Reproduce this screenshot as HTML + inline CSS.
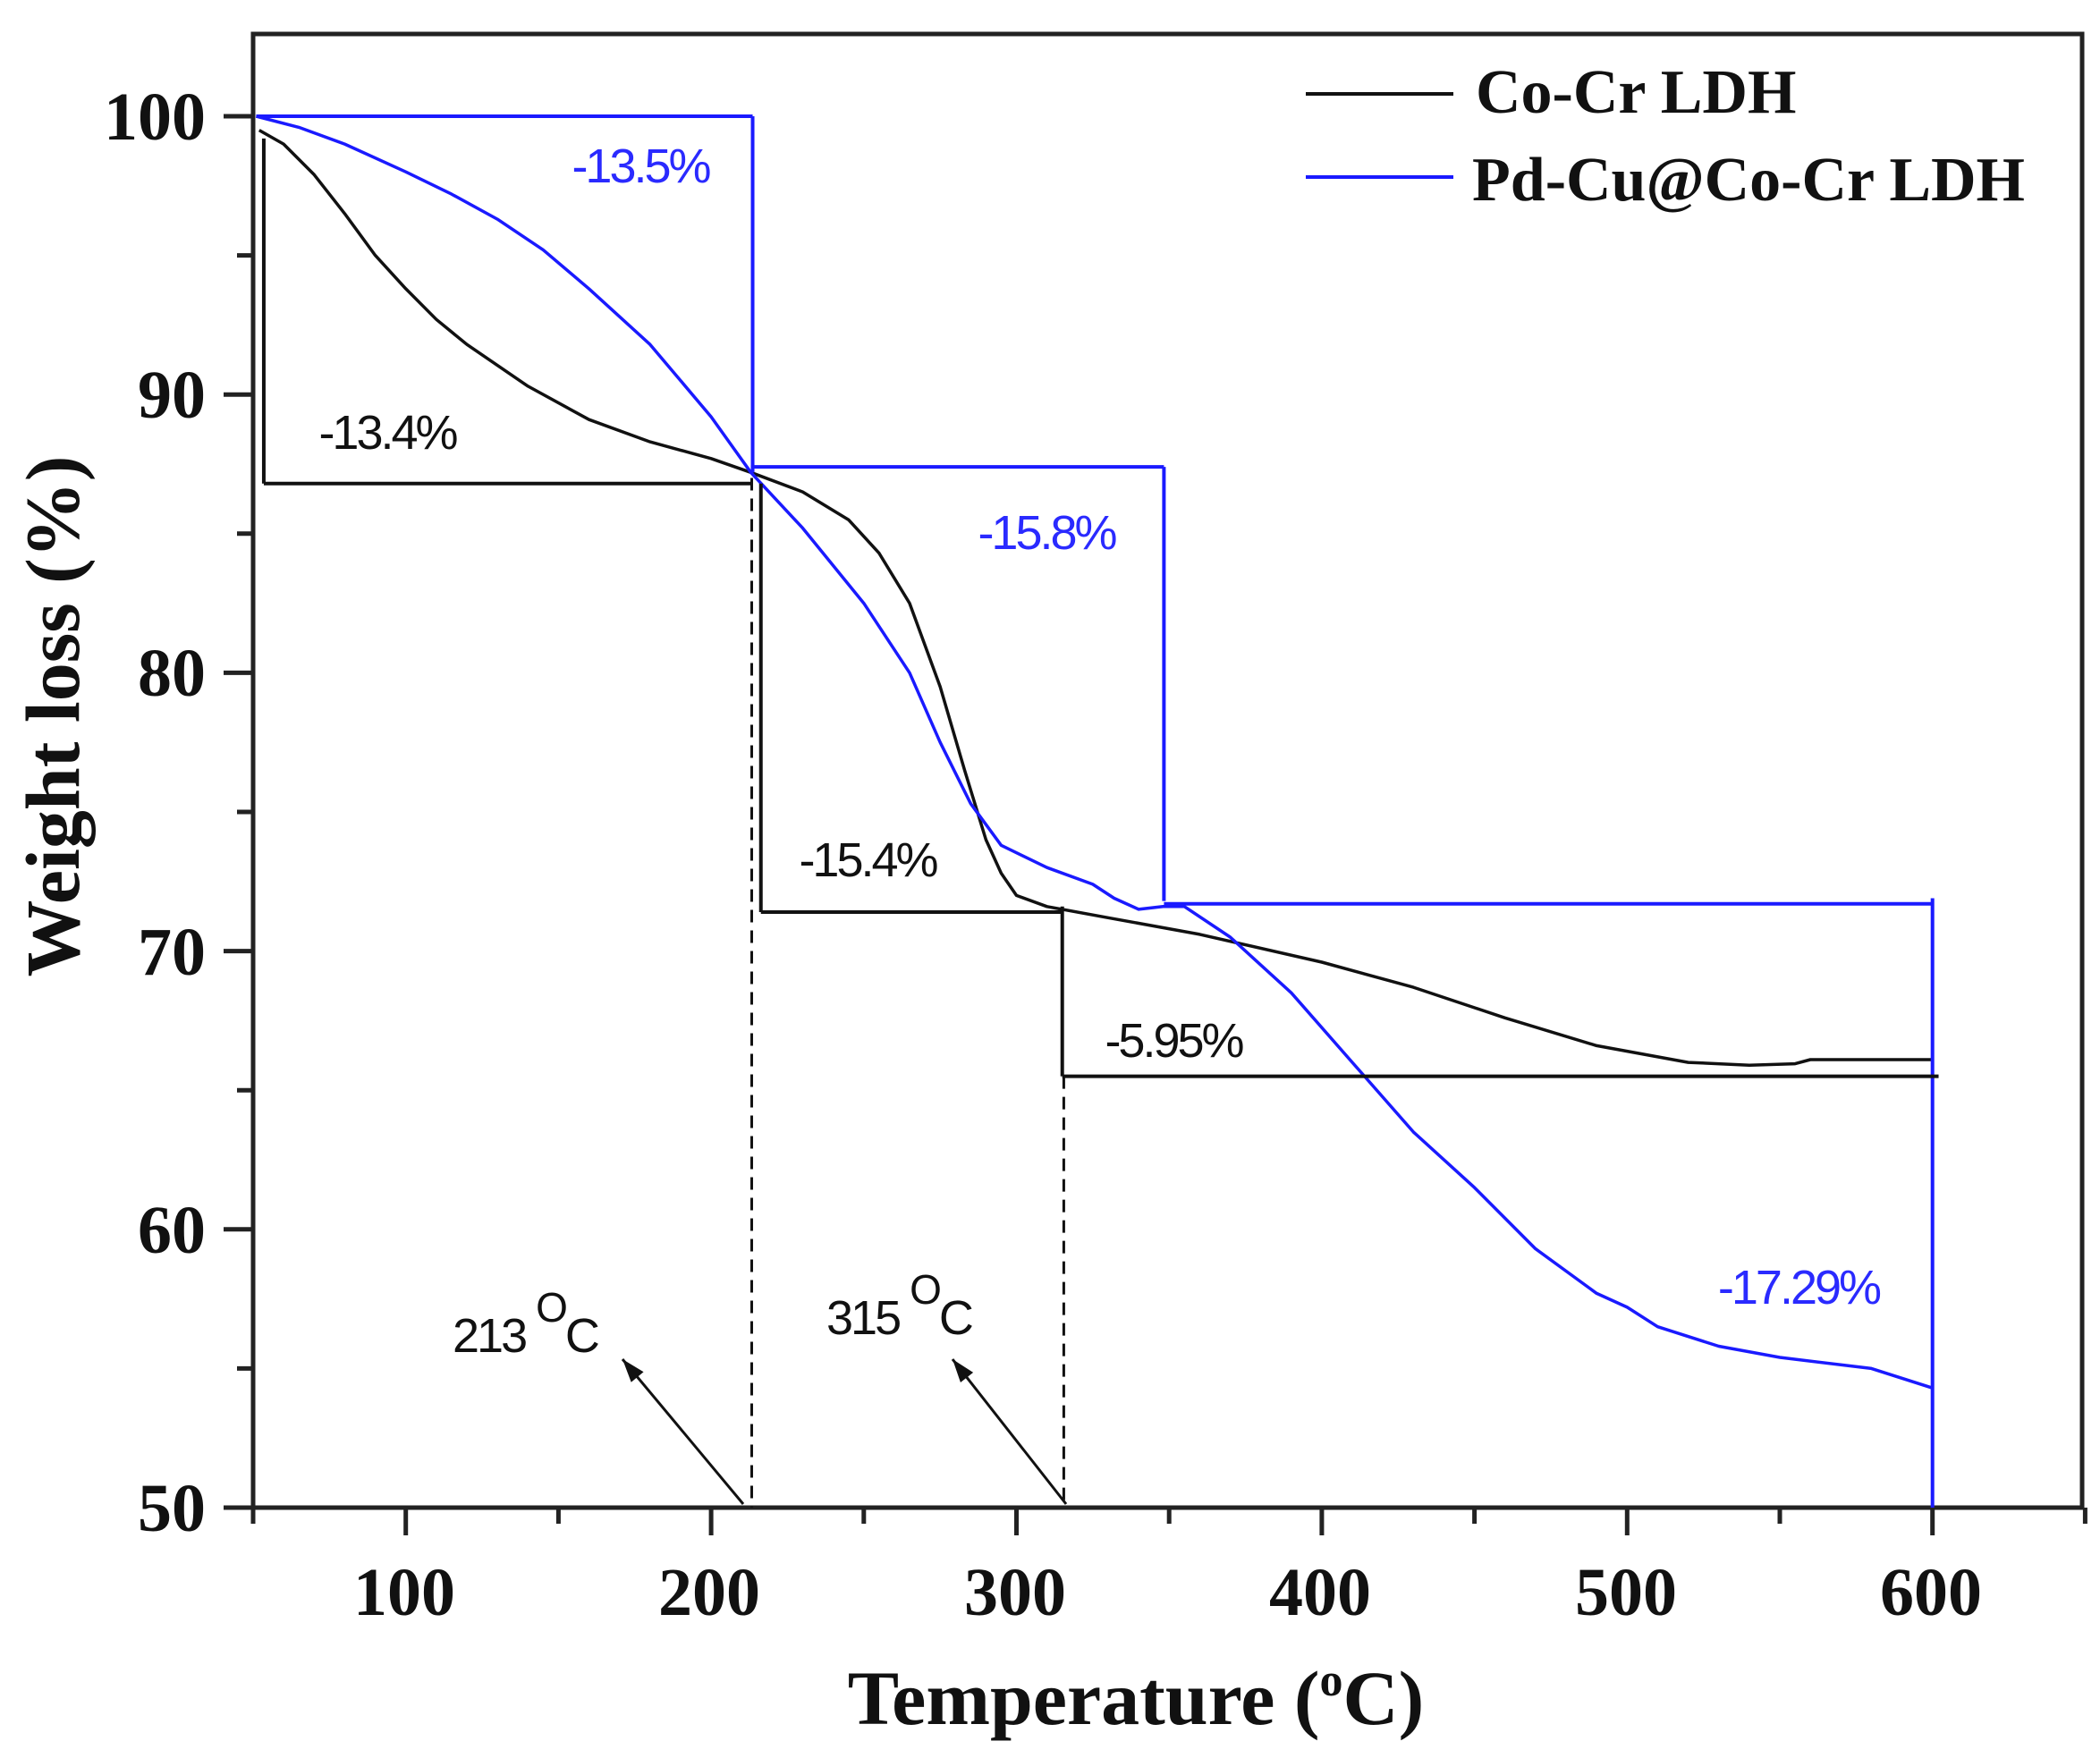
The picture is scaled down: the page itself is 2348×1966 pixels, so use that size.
<!DOCTYPE html>
<html><head><meta charset="utf-8"><style>
html,body{margin:0;padding:0;background:#fff;}
svg{display:block;}
.tl{font-family:"Liberation Serif",serif;font-weight:bold;font-size:76px;fill:#111;}
.an{font-family:"Liberation Sans",sans-serif;font-size:54px;letter-spacing:-3px;}
</style></head><body>
<svg id="s" width="2348" height="1966" viewBox="0 0 2348 1966" xmlns="http://www.w3.org/2000/svg">
<rect width="2348" height="1966" fill="#fff"/>
<rect x="283" y="38" width="2045" height="1648" fill="none" stroke="#222" stroke-width="5"/>
<g id="g"></g>
<text class="tl" x="230" y="156" text-anchor="end">100</text>
<text class="tl" x="230" y="467" text-anchor="end">90</text>
<text class="tl" x="230" y="778" text-anchor="end">80</text>
<text class="tl" x="230" y="1090" text-anchor="end">70</text>
<text class="tl" x="230" y="1401" text-anchor="end">60</text>
<text class="tl" x="230" y="1712" text-anchor="end">50</text>
<text class="tl" x="452" y="1806" text-anchor="middle">100</text>
<text class="tl" x="793" y="1806" text-anchor="middle">200</text>
<text class="tl" x="1135" y="1806" text-anchor="middle">300</text>
<text class="tl" x="1476" y="1806" text-anchor="middle">400</text>
<text class="tl" x="1818" y="1806" text-anchor="middle">500</text>
<text class="tl" x="2159" y="1806" text-anchor="middle">600</text>
<text class="tl" x="1270" y="1928" text-anchor="middle" style="font-size:86px">Temperature (<tspan dy="-32" style="font-size:52px">o</tspan><tspan dy="32">C)</tspan></text>
<text class="tl" transform="translate(88,801) rotate(-90)" text-anchor="middle" style="font-size:86px">Weight loss (%)</text>
<line x1="1460" y1="105" x2="1625" y2="105" stroke="#111" stroke-width="4"/>
<line x1="1460" y1="198" x2="1625" y2="198" stroke="#1a1aff" stroke-width="4"/>
<text class="tl" x="1650" y="126" style="font-size:70px">Co-Cr LDH</text>
<text class="tl" x="1646" y="224" style="font-size:70px">Pd-Cu@Co-Cr LDH</text>
<text class="an" x="716" y="204" text-anchor="middle" fill="#2a2aff">-13.5%</text>
<text class="an" x="433" y="502" text-anchor="middle" fill="#111">-13.4%</text>
<text class="an" x="1170" y="614" text-anchor="middle" fill="#2a2aff">-15.8%</text>
<text class="an" x="970" y="980" text-anchor="middle" fill="#111">-15.4%</text>
<text class="an" x="1312" y="1182" text-anchor="middle" fill="#111">-5.95%</text>
<text class="an" x="2011" y="1458" text-anchor="middle" fill="#2a2aff">-17.29%</text>
<text class="an" x="506" y="1512" fill="#111">213 <tspan dy="-34" style="font-size:46px">O</tspan><tspan dy="34">C</tspan></text>
<text class="an" x="924" y="1492" fill="#111">315 <tspan dy="-34" style="font-size:46px">O</tspan><tspan dy="34">C</tspan></text>
</svg>
<script>
var g=document.getElementById('g');
function X(t){return 283+(t-50)*3.414;}
function Y(v){return 130+(100-v)*31.12;}
var h='';
function L(x1,y1,x2,y2,c,w,d){h+='<line x1="'+x1+'" y1="'+y1+'" x2="'+x2+'" y2="'+y2+'" stroke="'+c+'" stroke-width="'+w+'"'+(d?' stroke-dasharray="'+d+'"':'')+'/>';}
for(var t=50;t<=650;t+=50){var maj=(t%100==0);L(X(t),1686,X(t),1686+(maj?31:18),'#222',5);}
for(var v=50;v<=100;v+=5){var maj=(v%10==0);L(283,Y(v),283-(maj?33:18),Y(v),'#222',5);}
function P(a,c,w){var s='';for(var i=0;i<a.length;i++){s+=(i?'L':'M')+X(a[i][0]).toFixed(1)+' '+Y(a[i][1]).toFixed(1);}h+='<path d="'+s+'" fill="none" stroke="'+c+'" stroke-width="'+w+'" stroke-linejoin="round"/>';}
var blk=[[52,99.5],[60,99],[70,97.9],[80,96.5],[90,95],[100,93.8],[110,92.7],[120,91.8],[140,90.3],[160,89.1],[180,88.3],[200,87.7],[213,87.2],[230,86.5],[245,85.5],[255,84.3],[265,82.5],[275,79.5],[283,76.5],[290,74],[295,72.8],[300,72],[310,71.6],[330,71.2],[360,70.6],[400,69.6],[430,68.7],[460,67.6],[490,66.6],[520,66.0],[540,65.9],[555,65.95],[560,66.1],[600,66.1]];
var blu=[[51,100],[65,99.6],[80,99],[100,98],[115,97.2],[130,96.3],[145,95.2],[160,93.8],[180,91.8],[200,89.2],[213,87.2],[230,85.2],[250,82.5],[265,80],[275,77.5],[285,75.3],[295,73.8],[310,73],[325,72.4],[332,71.9],[340,71.5],[348,71.6],[355,71.6],[370,70.5],[390,68.5],[410,66],[430,63.5],[450,61.5],[470,59.3],[490,57.7],[500,57.2],[510,56.5],[530,55.8],[550,55.4],[580,55],[600,54.3]];
P(blk,'#111',3.5);P(blu,'#1a1aff',3.5);
var b='#1a1aff';
L(X(51),Y(100),X(213.6),Y(100),b,4);L(X(213.6),Y(100),X(213.6),Y(87.2),b,4);
L(X(213),Y(87.4),X(348.3),Y(87.4),b,4);L(X(348.3),Y(87.4),X(348.3),Y(71.8),b,4);
L(X(348.3),Y(71.7),X(600),Y(71.7),b,4);L(X(600),Y(71.9),X(600),Y(50),b,4);
var k='#111';
L(X(53.5),Y(99.2),X(53.5),Y(86.8),k,4);L(X(53.5),Y(86.8),X(213),Y(86.8),k,4);
L(X(216.3),Y(86.8),X(216.3),Y(71.4),k,4);L(X(216.3),Y(71.4),X(315),Y(71.4),k,4);
L(X(315),Y(71.6),X(315),Y(65.5),k,4);L(X(315),Y(65.5),X(602),Y(65.5),k,4);
L(X(213.3),Y(87),X(213.3),Y(50),k,3,'14,9');L(X(315.5),Y(65.5),X(315.5),Y(50),k,3,'14,9');
function A(x1,y1,x2,y2){L(x1,y1,x2,y2,k,3);var ang=Math.atan2(y2-y1,x2-x1),l=26,w=9;var bx=x2-l*Math.cos(ang),by=y2-l*Math.sin(ang);var px=-Math.sin(ang)*w,py=Math.cos(ang)*w;h+='<polygon points="'+x2+','+y2+' '+(bx+px)+','+(by+py)+' '+(bx-px)+','+(by-py)+'" fill="#111"/>';}
A(831,1682,696,1520);A(1192,1682,1065,1520);
g.innerHTML=h;
</script>
</body></html>
